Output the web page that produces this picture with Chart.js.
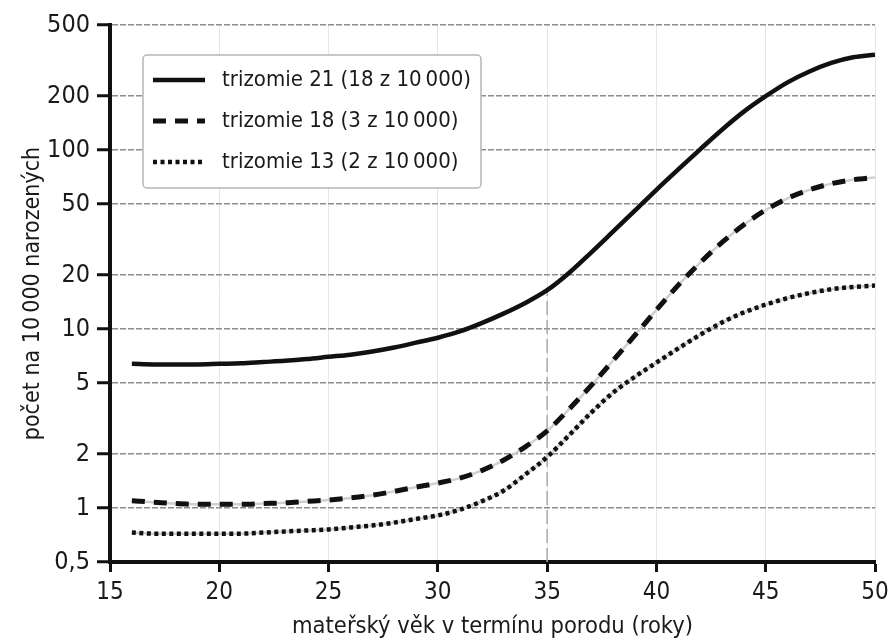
<!DOCTYPE html>
<html><head><meta charset="utf-8">
<script src="https://cdn.jsdelivr.net/npm/chart.js@4/dist/chart.umd.min.js"></script>
<style>html,body{margin:0;padding:0;background:#fff}#wrap{width:888px;height:643px;position:relative}canvas{display:block}</style>
</head><body><div id="wrap"><canvas id="c" width="888" height="643"></canvas></div>
<script>
const ages = [16,17,18,19,20,21,22,23,24,25,26,27,28,29,30,31,32,33,34,35,36,37,38,39,40,41,42,43,44,45,46,47,48,49,50];
const trisomy21 = [6.4,6.35,6.35,6.35,6.4,6.45,6.55,6.65,6.8,7.0,7.2,7.5,7.9,8.4,8.95,9.7,10.8,12.2,14.0,16.5,20.6,26.7,34.9,45.7,60,78,101,130,164,200,239,275,307,330,341];
const trisomy18 = [1.1,1.08,1.06,1.05,1.05,1.05,1.06,1.07,1.09,1.11,1.14,1.18,1.24,1.31,1.38,1.47,1.62,1.85,2.2,2.7,3.57,4.82,6.64,9.2,12.8,17.6,23.5,30.5,38.3,46.3,53.8,60,65,68.3,70.4];
const trisomy13 = [0.73,0.72,0.72,0.72,0.72,0.72,0.73,0.74,0.75,0.76,0.78,0.8,0.83,0.87,0.91,0.98,1.09,1.25,1.54,1.93,2.55,3.4,4.4,5.4,6.5,7.8,9.3,10.9,12.4,13.7,14.9,15.9,16.7,17.2,17.5];
const yTickValues = [0.5,1,2,5,10,20,50,100,200,500];
const xTickValues = [15,20,25,30,35,40,45,50];
const seriesLabels = ['trizomie 21 (18 z 10\u2009000)','trizomie 18 (3 z 10\u2009000)','trizomie 13 (2 z 10\u2009000)'];
const referenceAge = 35;
const xTitle = 'mateřský věk v termínu porodu (roky)';
const yTitle = 'počet na 10\u2009000 narozených';

const FONT = "'Liberation Sans Narrow','DejaVu Sans Condensed',sans-serif";
const INK = '#1a1a1a';
const pts = arr => ages.map((a,i)=>({x:a,y:arr[i]}));

const refData = [
  {x:referenceAge, y:yTickValues[0]},
  {x:referenceAge, y:trisomy21[ages.indexOf(referenceAge)]}
];

const boxLegend = {
  id:'boxLegend',
  afterDatasetsDraw(chart){
    const {ctx, chartArea} = chart;
    const items = chart.data.datasets.filter(d=>d.inLegend);
    const bx = chartArea.left + 33, by = chartArea.top + 30, bw = 338, bh = 133;
    ctx.save();
    ctx.fillStyle = '#fff';
    ctx.strokeStyle = '#b5b5b5';
    ctx.lineWidth = 1.5;
    ctx.beginPath();
    ctx.roundRect(bx, by, bw, bh, 4);
    ctx.fill(); ctx.stroke();
    ctx.font = "22px " + FONT;
    ctx.textBaseline = 'middle';
    ctx.textAlign = 'left';
    items.forEach((d,i)=>{
      const cy = by + 25 + i*41;
      ctx.strokeStyle = d.borderColor;
      ctx.lineWidth = d.borderWidth;
      ctx.setLineDash(d.borderDash || []);
      ctx.beginPath();
      ctx.moveTo(bx+10, cy); ctx.lineTo(bx+62, cy);
      ctx.stroke();
      ctx.setLineDash([]);
      ctx.fillStyle = INK;
      ctx.fillText(d.label, bx+79, cy);
    });
    ctx.restore();
  }
};

const ctx = document.getElementById('c');
new Chart(ctx, {
  type:'line',
  data:{
    datasets:[
      {label:seriesLabels[0], inLegend:true, data:pts(trisomy21), borderColor:'#111', borderWidth:4.5, order:0},
      {label:seriesLabels[1], inLegend:true, data:pts(trisomy18), borderColor:'#111', borderWidth:5, borderDash:[13,9], order:0},
      {label:seriesLabels[2], inLegend:true, data:pts(trisomy13), borderColor:'#111', borderWidth:4.5, borderDash:[4,3.5], order:0},
      {label:'', data:pts(trisomy18), borderColor:'#cfcfcf', borderWidth:2.5, order:1},
      {label:'', data:pts(trisomy13), borderColor:'#cfcfcf', borderWidth:2.5, order:1},
      {label:'', data:refData, borderColor:'#a8a8a8', borderWidth:1.5, borderDash:[14,5], order:2, cubicInterpolationMode:'default', tension:0}
    ]
  },
  options:{
    responsive:false,
    animation:false,
    devicePixelRatio:1,
    datasets:{line:{pointRadius:0, cubicInterpolationMode:'monotone', fill:false, borderCapStyle:'butt'}},
    layout:{padding:{top:25,right:0,left:0,bottom:0}},
    plugins:{legend:{display:false}, tooltip:{enabled:false}},
    scales:{
      x:{
        type:'linear', min:15, max:50,
        afterBuildTicks: s => { s.ticks = xTickValues.map(v=>({value:v})); },
        afterFit: s => { s.height = 81; s.paddingRight = 13; },
        ticks:{font:{family:FONT,size:24}, color:INK, padding:6, maxRotation:0},
        grid:{color:'#e6e6e6', lineWidth:1, tickColor:'#111', tickLength:10, tickWidth:3},
        border:{display:true, color:'#111', width:4},
        title:{display:true, text:xTitle, font:{family:FONT,size:23.5}, color:INK, padding:{top:0,bottom:2}}
      },
      y:{
        type:'logarithmic', min:0.5, max:500,
        afterBuildTicks: s => { s.ticks = yTickValues.map(v=>({value:v})); },
        afterFit: s => { s.width = 110; },
        ticks:{font:{family:FONT,size:25}, color:INK, padding:7, callback:v=>String(v).replace('.',',')},
        grid:{color:'#8c8c8c', lineWidth:1.5, tickColor:'#111', tickLength:13, tickWidth:3},
        border:{display:true, color:'#111', width:4, dash:[6,2]},
        title:{display:true, text:yTitle, font:{family:FONT,size:23}, color:INK, padding:{top:19,bottom:0}}
      }
    }
  },
  plugins:[boxLegend]
});
</script></body></html>
